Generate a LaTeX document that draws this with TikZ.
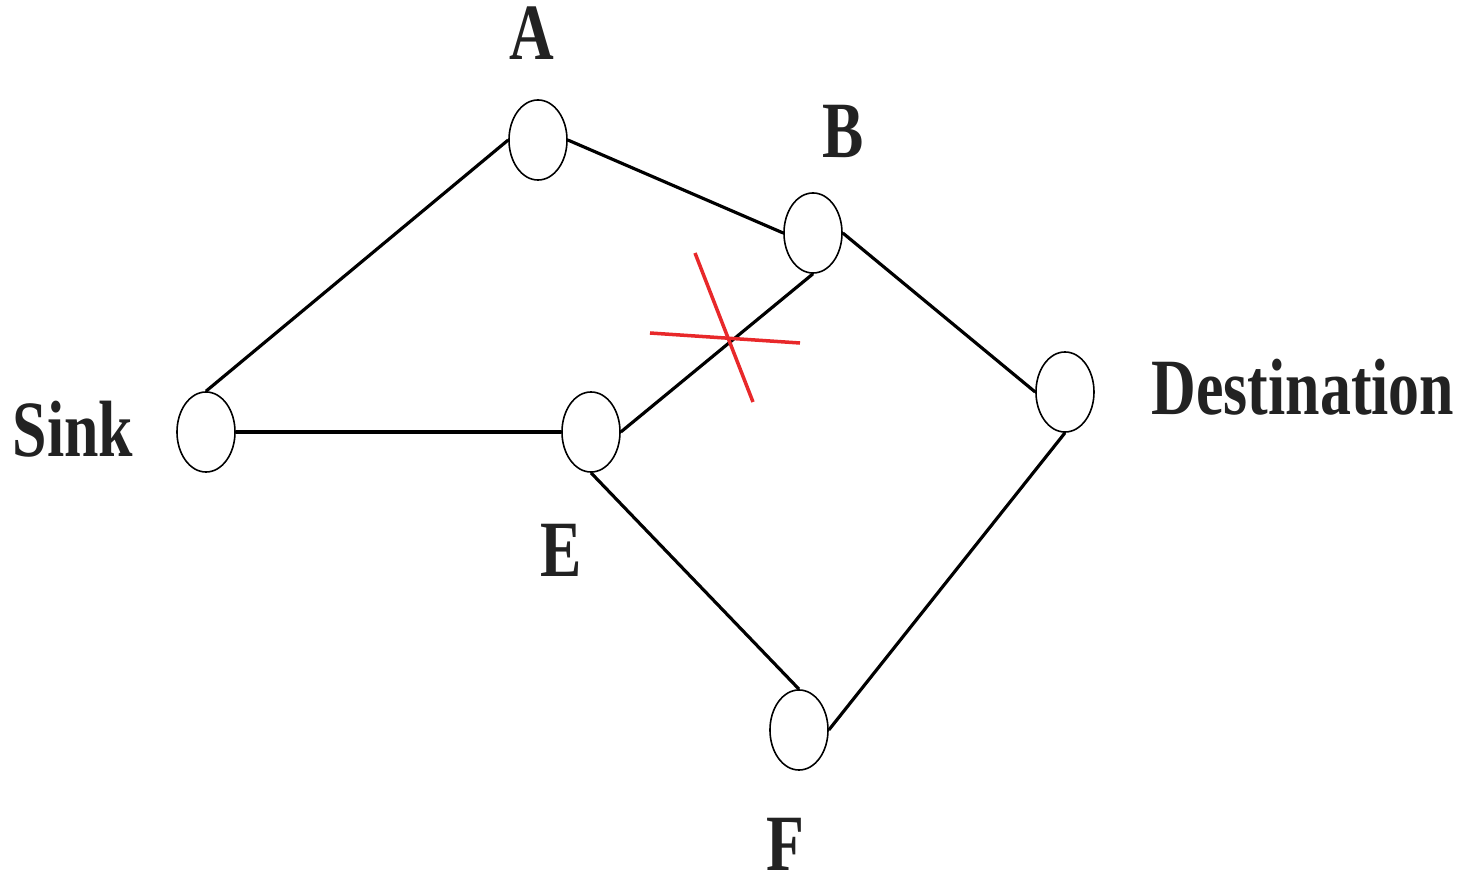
\documentclass[tikz,border=0pt]{standalone}
\usepackage{fontspec}
\setmainfont{Liberation Serif}
\usetikzlibrary{calc,shapes.geometric}
\definecolor{ink}{RGB}{34,34,34}
\definecolor{cut}{RGB}{232,40,42}
\newcommand{\tall}[1]{\scalebox{1}[1.29]{#1}}
\tikzset{
  hop/.style={draw, ellipse, line width=0.45pt, minimum width=0.58cm, minimum height=0.80cm, inner sep=0pt},
  link/.style={line width=0.9pt},
  lbl/.style={anchor=base, inner sep=0pt, text=ink, font=\bfseries\fontsize{17.6}{20}\selectfont}
}
\begin{document}
\begin{tikzpicture}[x=0.01cm,y=-0.01cm]
\useasboundingbox (0,0) rectangle (1462,879);

\node[hop] (a) at (538,140) {};
\node[hop] (b) at (813,233) {};
\node[hop] (sink) at (206,432) {};
\node[hop] (e) at (591,432) {};
\node[hop] (dest) at (1065,392) {};
\node[hop] (f) at (799,730) {};

\node[lbl] (la) at (532,60) {\tall{A}};
\node[lbl] (lb) at (843,158) {\tall{B}};
\node[lbl] (lsink) at (73,457) {\tall{Sink}};
\node[lbl] (le) at (561,577) {\tall{E}};
\node[lbl] (lf) at (785,871) {\tall{F}};
\node[lbl] (ldest) at (1303,415) {\tall{Destination}};

\draw[link] (sink.north) -- (a.west);
\draw[link] (a.east) -- (b.west);
\draw[link] (b.east) -- (dest.west);
\draw[link] (sink.east) -- (e.west);
\draw[link] (e.east) -- (b.south);
\draw[link] (e.south) -- (f.north);
\draw[link] (dest.south) -- (f.east);

% broken link E--B
\coordinate (x1) at (695,253);
\coordinate (x2) at (753,402);
\coordinate (x3) at (650,333);
\coordinate (x4) at (800,343);
\draw[cut, line width=1pt] (x1) -- (x2);
\draw[cut, line width=1pt] (x3) -- (x4);
\end{tikzpicture}
\end{document}
